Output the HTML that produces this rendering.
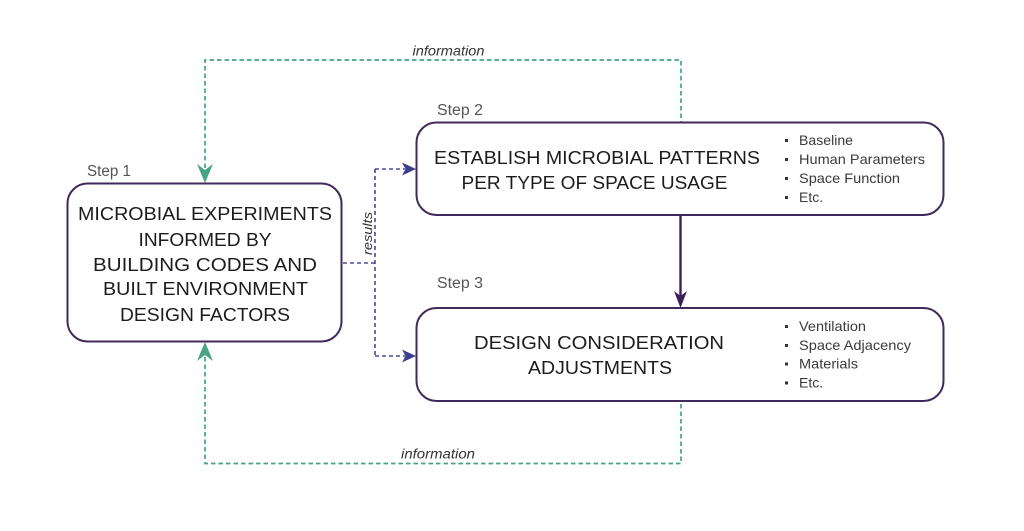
<!DOCTYPE html>
<html>
<head>
<meta charset="utf-8">
<style>
html,body{margin:0;padding:0;background:#fff;}
svg{display:block;}
</style>
</head>
<body>
<svg width="1024" height="531" viewBox="0 0 1024 531" xmlns="http://www.w3.org/2000/svg">
  <rect x="0" y="0" width="1024" height="531" fill="#ffffff"/>

  <!-- green dashed information loops -->
  <g fill="none" stroke="#45a583" stroke-width="1.7" stroke-dasharray="4.5 3">
    <path d="M205,168 V60 H681 V122"/>
    <path d="M205,357 V463.5 H681 V401"/>
  </g>
  <path d="M205,183 L197,164 L205,170 L213,164 Z" fill="#45a583"/>
  <path d="M205,342 L197,361 L205,355 L213,361 Z" fill="#45a583"/>

  <!-- navy dashed results -->
  <g fill="none" stroke="#4a4a9a" stroke-width="1.6" stroke-dasharray="4 3">
    <path d="M343,263 H375"/>
    <path d="M375,169 V356"/>
    <path d="M375,169 H405"/>
    <path d="M375,356 H405"/>
  </g>
  <path d="M416,169 L402,162.5 L405.5,169 L402,175.5 Z" fill="#3d3f8c"/>
  <path d="M416,356 L402,349.5 L405.5,356 L402,362.5 Z" fill="#3d3f8c"/>

  <!-- solid purple arrow -->
  <path d="M680.5,216 V296" stroke="#3d1f5a" stroke-width="2.4" fill="none"/>
  <path d="M680.5,308 L674,291 L680.5,296 L687,291 Z" fill="#3d1f5a"/>

  <!-- boxes -->
  <g fill="#ffffff" stroke="#3f2a5a" stroke-width="2">
    <rect x="67.5" y="183.5" width="274" height="158" rx="20" ry="20"/>
    <rect x="416.5" y="122.5" width="527" height="92.5" rx="20" ry="20"/>
    <rect x="416.5" y="308" width="527" height="93" rx="20" ry="20"/>
  </g>

  <!-- box texts -->
  <g font-family="'Liberation Sans', sans-serif" font-size="18.5" fill="#1c1c1c" text-anchor="middle">
    <text x="205" y="220" textLength="254" lengthAdjust="spacingAndGlyphs">MICROBIAL EXPERIMENTS</text>
    <text x="205" y="246" textLength="133" lengthAdjust="spacingAndGlyphs">INFORMED BY</text>
    <text x="205" y="271" textLength="224" lengthAdjust="spacingAndGlyphs">BUILDING CODES AND</text>
    <text x="205.5" y="295" textLength="205" lengthAdjust="spacingAndGlyphs">BUILT ENVIRONMENT</text>
    <text x="205" y="321" textLength="170" lengthAdjust="spacingAndGlyphs">DESIGN FACTORS</text>

    <text x="597" y="164" textLength="326" lengthAdjust="spacingAndGlyphs">ESTABLISH MICROBIAL PATTERNS</text>
    <text x="594.5" y="189" textLength="266" lengthAdjust="spacingAndGlyphs">PER TYPE OF SPACE USAGE</text>

    <text x="599" y="349" textLength="250" lengthAdjust="spacingAndGlyphs">DESIGN CONSIDERATION</text>
    <text x="600" y="374" textLength="144" lengthAdjust="spacingAndGlyphs">ADJUSTMENTS</text>
  </g>

  <!-- step labels -->
  <g font-family="'Liberation Sans', sans-serif" font-size="15.5" fill="#555555">
    <text x="87" y="176" textLength="44" lengthAdjust="spacingAndGlyphs">Step 1</text>
    <text x="437" y="115" textLength="46" lengthAdjust="spacingAndGlyphs">Step 2</text>
    <text x="437" y="288" textLength="46" lengthAdjust="spacingAndGlyphs">Step 3</text>
  </g>

  <!-- bullets -->
  <g fill="#333333">
    <rect x="785" y="139" width="3" height="3"/>
    <rect x="785" y="158" width="3" height="3"/>
    <rect x="785" y="177" width="3" height="3"/>
    <rect x="785" y="196" width="3" height="3"/>
    <rect x="785" y="325" width="3" height="3"/>
    <rect x="785" y="344" width="3" height="3"/>
    <rect x="785" y="362.5" width="3" height="3"/>
    <rect x="785" y="381.5" width="3" height="3"/>
  </g>
  <g font-family="'Liberation Sans', sans-serif" font-size="14" fill="#3a3a3a">
    <text x="799" y="145" textLength="54" lengthAdjust="spacingAndGlyphs">Baseline</text>
    <text x="799" y="164" textLength="126" lengthAdjust="spacingAndGlyphs">Human Parameters</text>
    <text x="799" y="183" textLength="101" lengthAdjust="spacingAndGlyphs">Space Function</text>
    <text x="799" y="202">Etc.</text>
    <text x="799" y="331" textLength="67" lengthAdjust="spacingAndGlyphs">Ventilation</text>
    <text x="799" y="350" textLength="112" lengthAdjust="spacingAndGlyphs">Space Adjacency</text>
    <text x="799" y="368.5" textLength="59" lengthAdjust="spacingAndGlyphs">Materials</text>
    <text x="799" y="387.5">Etc.</text>
  </g>

  <!-- connector labels -->
  <g font-family="'Liberation Sans', sans-serif" font-size="13.5" font-style="italic" fill="#333333">
    <text x="412.5" y="55.5" textLength="72" lengthAdjust="spacingAndGlyphs">information</text>
    <text x="401" y="458.5" textLength="74" lengthAdjust="spacingAndGlyphs">information</text>
    <text x="0" y="0" transform="translate(372,233.5) rotate(-90)" text-anchor="middle" font-size="12.5" textLength="43" lengthAdjust="spacingAndGlyphs">results</text>
  </g>
</svg>
</body>
</html>
